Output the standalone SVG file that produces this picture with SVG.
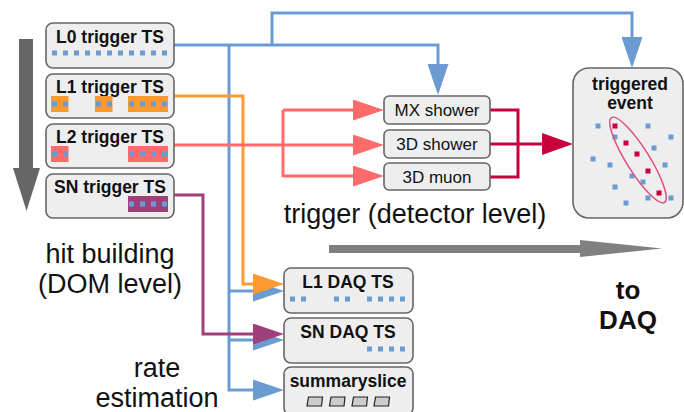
<svg xmlns="http://www.w3.org/2000/svg" width="684" height="412" viewBox="0 0 684 412">
<style>
.box{fill:#eeeeee;stroke:#666666;stroke-width:1.6}
.title{font-family:"Liberation Sans",Arial,sans-serif;font-weight:bold;font-size:17.5px;fill:#111;text-anchor:middle}
.trig{font-family:"Liberation Sans",Arial,sans-serif;font-size:17px;fill:#111;text-anchor:middle}
.lbl{font-family:"Liberation Sans",Arial,sans-serif;font-size:27px;fill:#111;text-anchor:middle}
.dot{fill:#6b9bd1}
.hit{fill:#c8003c}
.ln{fill:none;stroke-width:3}
.blue{stroke:#6b9bd1}
.orange{stroke:#ff9a30}
.red{stroke:#ff6b6b}
.purple{stroke:#a0407a}
.crim{stroke:#c8003c}
.sq{fill:#cccccc;stroke:#222;stroke-width:1.2}
</style>
<defs>
<marker id="aBlue" markerUnits="userSpaceOnUse" markerWidth="31" markerHeight="21" viewBox="0 0 31 21" refX="0" refY="10.5" orient="auto"><path d="M0,0 L31,10.5 L0,21 z" fill="#6b9bd1"/></marker>
<marker id="aOrange" markerUnits="userSpaceOnUse" markerWidth="31" markerHeight="21" viewBox="0 0 31 21" refX="0" refY="10.5" orient="auto"><path d="M0,0 L31,10.5 L0,21 z" fill="#ff9a30"/></marker>
<marker id="aRed" markerUnits="userSpaceOnUse" markerWidth="31" markerHeight="21" viewBox="0 0 31 21" refX="0" refY="10.5" orient="auto"><path d="M0,0 L31,10.5 L0,21 z" fill="#ff6b6b"/></marker>
<marker id="aPurple" markerUnits="userSpaceOnUse" markerWidth="31" markerHeight="21" viewBox="0 0 31 21" refX="0" refY="10.5" orient="auto"><path d="M0,0 L31,10.5 L0,21 z" fill="#a0407a"/></marker>
<marker id="aCrim" markerUnits="userSpaceOnUse" markerWidth="31" markerHeight="22" viewBox="0 0 31 22" refX="0" refY="11" orient="auto"><path d="M0,0 L31,11 L0,22 z" fill="#c8003c"/></marker>
</defs>

<!-- big gray arrows -->
<g id="arrow-down" fill="#666666">
<rect x="19" y="39" width="14" height="130"/>
<polygon points="13,168 40,168 26.5,211"/>
</g>
<g id="arrow-right" fill="#808080">
<rect x="329" y="245" width="252" height="8"/>
<polygon points="580,240 662,248.5 580,257"/>
</g>

<!-- connectors -->
<g id="connectors">
<path class="ln blue" d="M174,45 H438 V64" marker-end="url(#aBlue)"/>
<path class="ln blue" d="M272,45 V13 H632 V37" marker-end="url(#aBlue)"/>
<path class="ln blue" d="M229,45 V390 H253" marker-end="url(#aBlue)"/>
<path class="ln blue" d="M229,291 H253" marker-end="url(#aBlue)"/>
<path class="ln blue" d="M229,340 H253" marker-end="url(#aBlue)"/>
<path class="ln orange" d="M174,96 H243 V284 H253" marker-end="url(#aOrange)"/>
<path class="ln purple" d="M174,195 H203 V334 H253" marker-end="url(#aPurple)"/>
<path class="ln red" d="M174,145 H353" marker-end="url(#aRed)"/>
<path class="ln red" d="M283,110 V177"/>
<path class="ln red" d="M283,110 H353" marker-end="url(#aRed)"/>
<path class="ln red" d="M283,176 H353" marker-end="url(#aRed)"/>
<path class="ln crim" d="M490,110 H518 V177 H490"/>
<path class="ln crim" d="M490,144 H542" marker-end="url(#aCrim)"/>
</g>

<!-- trigger TS nodes -->
<g id="l0-trigger-ts">
<rect class="box" x="46" y="23" width="128" height="45" rx="7"/>
<text class="title" x="110" y="43">L0 trigger TS</text>
<g class="dot">
<rect x="52" y="50.5" width="5" height="5"/><rect x="63" y="50.5" width="5" height="5"/><rect x="74" y="50.5" width="5" height="5"/><rect x="85" y="50.5" width="5" height="5"/><rect x="96" y="50.5" width="5" height="5"/><rect x="107" y="50.5" width="5" height="5"/><rect x="118" y="50.5" width="5" height="5"/><rect x="129" y="50.5" width="5" height="5"/><rect x="140" y="50.5" width="5" height="5"/><rect x="151" y="50.5" width="5" height="5"/><rect x="162" y="50.5" width="5" height="5"/>
</g>
</g>
<g id="l1-trigger-ts">
<rect class="box" x="46" y="74" width="128" height="44" rx="7"/>
<text class="title" x="110" y="93">L1 trigger TS</text>
<g fill="#ff9a30"><rect x="51" y="96" width="17.5" height="16"/><rect x="95" y="96" width="17.5" height="16"/><rect x="128" y="96" width="40" height="16"/></g>
<g class="dot">
<rect x="52" y="101.5" width="5" height="5"/><rect x="63" y="101.5" width="5" height="5"/><rect x="96" y="101.5" width="5" height="5"/><rect x="107" y="101.5" width="5" height="5"/><rect x="129" y="101.5" width="5" height="5"/><rect x="140" y="101.5" width="5" height="5"/><rect x="151" y="101.5" width="5" height="5"/><rect x="162" y="101.5" width="5" height="5"/>
</g>
</g>
<g id="l2-trigger-ts">
<rect class="box" x="46" y="124" width="128" height="44" rx="7"/>
<text class="title" x="110" y="143">L2 trigger TS</text>
<g fill="#ff6b6b"><rect x="51" y="146" width="17.5" height="16"/><rect x="128" y="146" width="40" height="16"/></g>
<g class="dot">
<rect x="52" y="151.5" width="5" height="5"/><rect x="63" y="151.5" width="5" height="5"/><rect x="129" y="151.5" width="5" height="5"/><rect x="140" y="151.5" width="5" height="5"/><rect x="151" y="151.5" width="5" height="5"/><rect x="162" y="151.5" width="5" height="5"/>
</g>
</g>
<g id="sn-trigger-ts">
<rect class="box" x="46" y="174" width="128" height="44" rx="7"/>
<text class="title" x="110" y="193">SN trigger TS</text>
<rect x="128" y="196" width="40" height="16" fill="#a0407a"/>
<g class="dot">
<rect x="129" y="201.5" width="5" height="5"/><rect x="140" y="201.5" width="5" height="5"/><rect x="151" y="201.5" width="5" height="5"/><rect x="162" y="201.5" width="5" height="5"/>
</g>
</g>

<!-- trigger algorithms -->
<g id="mx-shower">
<rect class="box" x="384" y="96" width="106" height="28" rx="5"/>
<text class="trig" x="437" y="116">MX shower</text>
</g>
<g id="3d-shower">
<rect class="box" x="384" y="130" width="106" height="28" rx="5"/>
<text class="trig" x="437" y="150">3D shower</text>
</g>
<g id="3d-muon">
<rect class="box" x="384" y="163" width="106" height="27" rx="5"/>
<text class="trig" x="437" y="182.5">3D muon</text>
</g>

<!-- triggered event -->
<g id="triggered-event">
<rect class="box" x="573" y="68" width="110" height="150" rx="16"/>
<text class="title" x="630" y="90">triggered</text>
<text class="title" x="630" y="109">event</text>
<g class="dot">
<rect x="595.5" y="123.5" width="5" height="5"/><rect x="645.5" y="123.5" width="5" height="5"/><rect x="612.5" y="134.5" width="5" height="5"/><rect x="668.5" y="134.5" width="5" height="5"/><rect x="651.5" y="145.5" width="5" height="5"/><rect x="590.5" y="156.5" width="5" height="5"/><rect x="607.5" y="162.5" width="5" height="5"/><rect x="662.5" y="162.5" width="5" height="5"/><rect x="629.5" y="173.5" width="5" height="5"/><rect x="640.5" y="179.5" width="5" height="5"/><rect x="612.5" y="184.5" width="5" height="5"/><rect x="645.5" y="195.5" width="5" height="5"/><rect x="668.5" y="195.5" width="5" height="5"/><rect x="623.5" y="200.5" width="5" height="5"/>
</g>
<g class="hit">
<rect x="612.5" y="123.5" width="5" height="5"/><rect x="623.5" y="140.5" width="5" height="5"/><rect x="634.5" y="151.5" width="5" height="5"/><rect x="645.5" y="168.5" width="5" height="5"/><rect x="656.5" y="190.5" width="5" height="5"/>
</g>
<ellipse cx="638" cy="160" rx="50" ry="11.5" transform="rotate(58 638 160)" fill="none" stroke="#e0507a" stroke-width="1.5"/>
</g>

<!-- DAQ nodes -->
<g id="l1-daq-ts">
<rect class="box" x="284" y="268" width="129" height="45" rx="7"/>
<text class="title" x="348" y="288">L1 DAQ TS</text>
<g class="dot">
<rect x="290" y="296.5" width="5" height="5"/><rect x="301" y="296.5" width="5" height="5"/><rect x="334" y="296.5" width="5" height="5"/><rect x="345" y="296.5" width="5" height="5"/><rect x="367" y="296.5" width="5" height="5"/><rect x="378" y="296.5" width="5" height="5"/><rect x="389" y="296.5" width="5" height="5"/><rect x="400" y="296.5" width="5" height="5"/>
</g>
</g>
<g id="sn-daq-ts">
<rect class="box" x="284" y="318" width="129" height="45" rx="7"/>
<text class="title" x="348" y="338">SN DAQ TS</text>
<g class="dot">
<rect x="367" y="346.5" width="5" height="5"/><rect x="378" y="346.5" width="5" height="5"/><rect x="389" y="346.5" width="5" height="5"/><rect x="400" y="346.5" width="5" height="5"/>
</g>
</g>
<g id="summaryslice">
<rect class="box" x="284" y="367" width="129" height="48" rx="7"/>
<text class="title" x="348" y="387">summaryslice</text>
<g class="sq">
<path d="M308.5,397 H322.5 L321.5,406 H307 z"/><path d="M331,397 H345 L344,406 H329.5 z"/><path d="M353.5,397 H367.5 L366.5,406 H352 z"/><path d="M375.5,397 H389.5 L388.5,406 H374 z"/>
</g>
</g>

<!-- labels -->
<g id="labels">
<text class="lbl" x="110" y="263">hit building</text>
<text class="lbl" x="110" y="293">(DOM level)</text>
<text class="lbl" x="157" y="377">rate</text>
<text class="lbl" x="157" y="407">estimation</text>
<text class="lbl" x="415" y="223">trigger (detector level)</text>
<text class="lbl" x="628" y="299" style="font-weight:bold;font-size:26px">to</text>
<text class="lbl" x="628" y="329" style="font-weight:bold;font-size:26px">DAQ</text>
</g>
</svg>
